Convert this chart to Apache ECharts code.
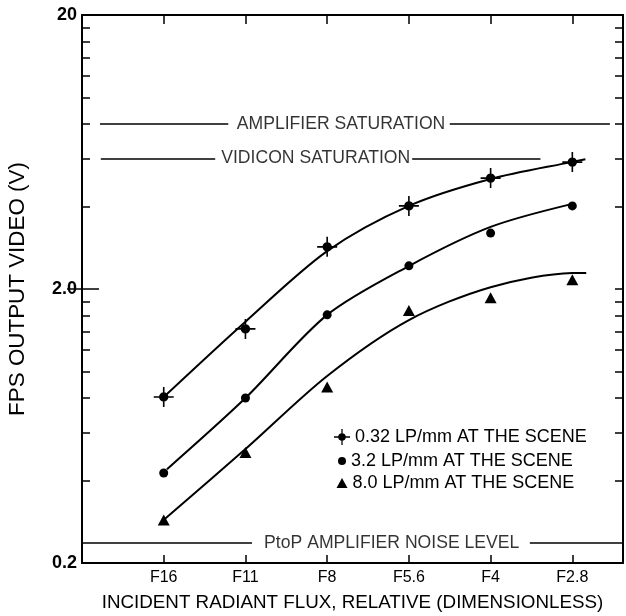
<!DOCTYPE html>
<html>
<head>
<meta charset="utf-8">
<script src="https://cdn.jsdelivr.net/npm/echarts@6/dist/echarts.min.js"></script>
<style>
  html, body { margin: 0; padding: 0; background: #fff; }
  #chart { width: 626px; height: 616px; }
</style>
</head>
<body>
<div id="chart"></div>
<script>
// ---- data ----------------------------------------------------------------
// lens stops (relative incident flux) and their positions on the x scale
const stops = ['F16', 'F11', 'F8', 'F5.6', 'F4', 'F2.8'];
const stopPos = [1, 2, 3, 4, 5, 6];

// measured peak-to-peak output video (V) per spatial frequency
const seriesNames = [
  '0.32 LP/mm AT THE SCENE',
  '3.2 LP/mm AT THE SCENE',
  '8.0 LP/mm AT THE SCENE'
];
const video032 = [0.807, 1.43, 2.85, 4.02, 5.08, 5.81];
const video32  = [0.426, 0.80, 1.61, 2.43, 3.20, 4.02];
const video80  = [0.287, 0.506, 0.877, 1.67, 1.86, 2.16];

// hand-drawn trend curves through each data set
const fit032X = [1, 2, 3, 4, 5, 6, 6.16];
const fit032Y = [0.807, 1.52, 2.75, 4.02, 5.04, 5.82, 5.95];
const fit32X  = [1.04, 2, 3, 4, 5, 6];
const fit32Y  = [0.44, 0.80, 1.609, 2.426, 3.37, 4.09];
const fit80X  = [0.97, 2, 3, 4, 5, 6, 6.17];
const fit80Y  = [0.282, 0.521, 0.963, 1.54, 2.03, 2.288, 2.29];

// reference levels (V)
const levelNames  = ['AMPLIFIER SATURATION', 'VIDICON SATURATION', 'PtoP AMPLIFIER NOISE LEVEL'];
const levelValues = [8, 6, 0.237];

// y-axis ticks and labels
const yTicks = [0.2, 0.4, 0.6, 0.8, 1, 1.2, 1.4, 1.6, 1.8, 2, 4, 6, 8, 10, 12, 14, 16, 18, 20];
const yLabelValues = [0.2, 2, 20];
const yLabelText = ['0.2', '2.0', '20'];

// ---- layout --------------------------------------------------------------
const FONT = '"Liberation Sans", Arial, sans-serif';
const INK = '#000';
const X_MAX = 6.62;
// x extents of the level lines (two segments, broken around the caption)
const levelSegments = [
  [[0.22, 1.79], [4.50, 6.46]],
  [[0.23, 1.63], [4.04, 5.61]],
  [[0.00, 2.08], [5.48, X_MAX]]
];
const levelCaptionX = [3.17, 2.86, 3.79];

// dot with a cross through it
const crossDot = 'path://M0,9.2h20v1.6h-20z M9.2,0h1.6v20h-1.6z M14.7,10a4.7,4.7 0 1,1 -9.4,0a4.7,4.7 0 1,1 9.4,0z';
const markerSymbols = [crossDot, 'circle', 'triangle'];
const markerSizes = [20, 9, [12, 11]];
const legendSizes = [[16, 16], [8, 8], [11, 10]];
const legendRowY = [437, 461, 483];
const legendIconX = 342;

const seriesValues = [video032, video32, video80];
const fits = [[fit032X, fit032Y], [fit32X, fit32Y], [fit80X, fit80Y]];

function near(a, b) { return Math.abs(a - b) <= Math.abs(b) * 1e-6; }

const axisLine = { show: true, onZero: false, lineStyle: { color: INK, width: 2 } };

const chart = echarts.init(document.getElementById('chart'));
chart.setOption({
  animation: false,
  backgroundColor: '#fff',
  textStyle: { fontFamily: FONT, color: INK },
  grid: { left: 82, right: 3, top: 15, bottom: 53, outerBoundsMode: 'none', containLabel: false },
  xAxis: [
    {
      type: 'value', position: 'bottom', min: 0, max: X_MAX,
      axisLine: axisLine,
      axisTick: { show: true, inside: true, length: 8, customValues: stopPos, lineStyle: { color: INK, width: 1.5 } },
      axisLabel: {
        customValues: stopPos, margin: 7, fontSize: 16, color: INK, fontFamily: FONT,
        formatter: v => { const i = stopPos.findIndex(p => near(v, p)); return i < 0 ? '' : stops[i]; }
      },
      splitLine: { show: false },
      name: 'INCIDENT RADIANT FLUX, RELATIVE (DIMENSIONLESS)',
      nameLocation: 'middle', nameGap: 30,
      nameTextStyle: { fontSize: 18.8, color: INK, fontFamily: FONT }
    },
    {
      type: 'value', position: 'top', min: 0, max: X_MAX,
      axisLine: axisLine,
      axisTick: { show: true, inside: true, length: 9, customValues: stopPos, lineStyle: { color: INK, width: 1.5 } },
      axisLabel: { show: false },
      splitLine: { show: false }
    }
  ],
  yAxis: [
    {
      type: 'log', logBase: 10, min: 0.2, max: 20, position: 'left',
      axisLine: axisLine,
      axisTick: { show: true, inside: true, length: 8, customValues: yTicks, lineStyle: { color: INK, width: 1.5 } },
      axisLabel: {
        customValues: yLabelValues, margin: 5, fontSize: 18, fontWeight: 'bold', color: INK, fontFamily: FONT,
        formatter: v => { const i = yLabelValues.findIndex(p => near(v, p)); return i < 0 ? '' : yLabelText[i]; }
      },
      splitLine: { show: false },
      minorTick: { show: false },
      name: 'FPS OUTPUT VIDEO (V)',
      nameLocation: 'middle', nameGap: 53,
      nameTextStyle: { fontSize: 22.4, color: INK, fontFamily: FONT }
    },
    {
      type: 'log', logBase: 10, min: 0.2, max: 20, position: 'right',
      axisLine: axisLine,
      axisTick: { show: true, inside: true, length: 8, customValues: yTicks, lineStyle: { color: INK, width: 1.5 } },
      axisLabel: { show: false },
      splitLine: { show: false }
    },
    {
      type: 'log', logBase: 10, min: 0.2, max: 20, position: 'left',
      axisLine: { show: false },
      axisTick: { show: true, inside: true, length: 17, customValues: [2], lineStyle: { color: INK, width: 1.5 } },
      axisLabel: { show: false },
      splitLine: { show: false }
    },
    {
      type: 'log', logBase: 10, min: 0.2, max: 20, position: 'right',
      axisLine: { show: false },
      axisTick: { show: true, inside: true, length: 15, customValues: [2], lineStyle: { color: INK, width: 1.5 } },
      axisLabel: { show: false },
      splitLine: { show: false }
    }
  ],
  legend: seriesNames.map((n, i) => ({
    data: [{ name: n, icon: markerSymbols[i] }],
    orient: 'vertical',
    left: legendIconX - legendSizes[i][0] / 2,
    top: legendRowY[i] - 10,
    padding: 0,
    itemWidth: legendSizes[i][0],
    itemHeight: legendSizes[i][1],
    itemGap: 0,
    selectedMode: false,
    textStyle: { fontSize: 18, color: INK, fontFamily: FONT, lineHeight: 20 }
  })),
  series: [
    ...seriesNames.map((n, i) => ({
      type: 'scatter', name: n,
      data: stopPos.map((x, j) => [x, seriesValues[i][j]]),
      symbol: markerSymbols[i], symbolSize: markerSizes[i], symbolKeepAspect: true,
      itemStyle: { color: INK, opacity: 1 },
      z: 5, silent: true
    })),
    ...fits.map(f => ({
      type: 'line',
      data: f[0].map((x, j) => [x, f[1][j]]),
      smooth: 0.3, symbol: 'none', showSymbol: false,
      lineStyle: { color: INK, width: 2 },
      z: 4, silent: true
    })),
    {
      type: 'scatter', name: 'levels',
      data: levelNames.map((n, i) => ({ name: n, value: [levelCaptionX[i], levelValues[i]] })),
      symbolSize: 1,
      itemStyle: { color: 'rgba(0,0,0,0)' },
      label: { show: true, position: 'inside', formatter: '{b}', fontSize: 17.6, color: INK, fontFamily: FONT },
      silent: true,
      markLine: {
        silent: true, symbol: ['none', 'none'],
        label: { show: false },
        lineStyle: { type: 'solid', color: INK, width: 1.5 },
        emphasis: { disabled: true },
        data: levelSegments.flatMap((segs, i) => segs.map(s => [
          { coord: [s[0], levelValues[i]] },
          { coord: [s[1], levelValues[i]] }
        ]))
      }
    }
  ]
});
</script>
</body>
</html>
